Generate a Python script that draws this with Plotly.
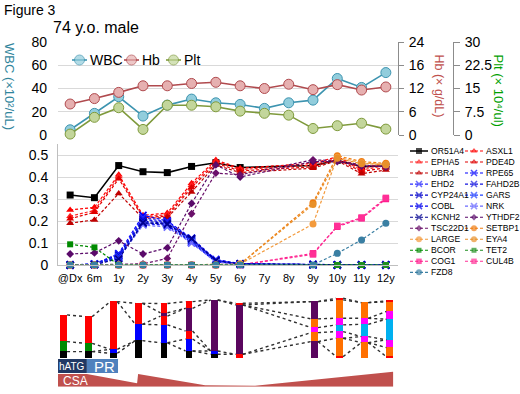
import plotly.graph_objects as go

W, H = 520, 394
FONT = "Liberation Sans, Arial, Helvetica, sans-serif"

# ---------------- data ----------------
time_labels = ['@Dx', '6m', '1y', '2y', '3y', '4y', '5y', '6y', '7y', '8y', '9y', '10y', '11y', '12y']

wbc = [4.5, 18.6, 32.9, 16.3, 25.7, 30.9, 27.7, 26.3, 22.9, 27.7, 30.0, 48.6, 40.9, 53.7]
hb = [8.0, 9.4, 11.0, 12.7, 12.7, 13.3, 13.6, 12.7, 12.0, 13.1, 11.7, 13.0, 11.6, 12.4]
plt_count = [0.3, 5.7, 8.8, 1.8, 9.6, 9.6, 9.1, 7.7, 7.0, 6.4, 2.1, 3.0, 3.8, 1.9]

wbc_ticks = [0, 20, 40, 60, 80]
hb_tickvals = [0, 6, 12, 18, 24]
hb_ticktext = ['0', '6', '12', '16', '24']
plt_tickvals = [0, 7.5, 15, 22.5, 30]
plt_ticktext = ['0', '7.5', '15', '22.5', '30']
vaf_ticks = [0, 0.1, 0.2, 0.3, 0.4, 0.5]

N = None
OR51A4 = [0.318, 0.306, 0.452, 0.424, 0.420, 0.448, 0.465, 0.443, N, N, 0.452, 0.476, 0.447, 0.450]
ASXL1 = [0.250, 0.262, 0.410, 0.226, 0.236, 0.372, 0.477, 0.440, N, N, 0.462, 0.492, 0.440, 0.462]
EPHA5 = [0.222, 0.248, 0.402, 0.220, 0.228, 0.362, 0.470, 0.434, N, N, 0.454, 0.486, 0.432, 0.452]
PDE4D = [0.210, 0.240, 0.392, 0.215, 0.222, 0.352, 0.462, 0.428, N, N, 0.446, 0.480, 0.425, 0.442]
UBR4 = [0.190, 0.205, 0.325, 0.212, 0.215, 0.332, 0.455, 0.420, N, N, 0.440, 0.474, 0.415, 0.432]
RPE65 = [0.0, 0.005, 0.052, 0.226, 0.200, 0.122, 0.025, 0.006, N, N, 0.003, 0.0, 0.0, 0.0]
EHD2 = [0.0, 0.004, 0.048, 0.215, 0.196, 0.118, 0.022, 0.005, N, N, 0.002, 0.0, 0.0, 0.0]
FAHD2B = [0.0, 0.004, 0.045, 0.208, 0.192, 0.114, 0.020, 0.004, N, N, 0.002, 0.0, 0.0, 0.0]
CYP24A1 = [0.0, 0.003, 0.042, 0.200, 0.188, 0.110, 0.018, 0.004, N, N, 0.002, 0.0, 0.0, 0.0]
GARS = [0.0, 0.003, 0.038, 0.194, 0.184, 0.106, 0.016, 0.003, N, N, 0.001, 0.0, 0.0, 0.0]
COBL = [0.0, 0.002, 0.034, 0.188, 0.180, 0.102, 0.015, 0.003, N, N, 0.001, 0.0, 0.0, 0.0]
NRK = [0.0, 0.002, 0.030, 0.182, 0.172, 0.100, 0.013, 0.002, N, N, 0.001, 0.0, 0.0, 0.0]
KCNH2 = [0.0, 0.002, 0.028, 0.192, 0.186, 0.120, 0.020, 0.005, N, N, 0.002, 0.0, 0.0, 0.0]
YTHDF2 = [0.050, 0.055, 0.110, 0.050, 0.078, 0.280, 0.455, 0.400, N, N, 0.470, 0.470, 0.450, 0.448]
TSC22D1 = [0.0, 0.0, 0.004, 0.005, 0.030, 0.233, 0.418, 0.410, N, N, 0.478, 0.474, 0.455, 0.445]
SETBP1 = [0.0, 0.0, 0.0, 0.0, 0.0, 0.0, 0.0, 0.004, N, N, 0.283, 0.497, 0.470, 0.462]
LARGE = [0.0, 0.0, 0.0, 0.0, 0.0, 0.0, 0.0, 0.004, N, N, 0.186, 0.490, 0.465, 0.455]
EYA4 = [0.0, 0.0, 0.0, 0.0, 0.0, 0.0, 0.0, 0.003, N, N, 0.275, 0.485, 0.460, 0.458]
BCOR = [0.094, 0.080, 0.0, 0.0, 0.0, 0.0, 0.0, 0.0, N, N, 0.0, 0.0, 0.0, 0.0]
TET2 = [0.0, 0.0, 0.0, 0.0, 0.0, 0.0, 0.0, 0.0, N, N, 0.0, 0.0, 0.0, 0.0]
COG1 = [0.0, 0.0, 0.0, 0.0, 0.0, 0.0, 0.0, 0.0, N, N, 0.053, 0.174, 0.212, 0.300]
CUL4B = [0.0, 0.0, 0.0, 0.0, 0.0, 0.0, 0.0, 0.0, N, N, 0.048, 0.178, 0.216, 0.305]
FZD8 = [0.0, 0.0, 0.0, 0.0, 0.0, 0.0, 0.0, 0.0, N, N, 0.0, 0.053, 0.114, 0.190]

gene_names = ['OR51A4', 'ASXL1', 'EPHA5', 'PDE4D', 'UBR4', 'RPE65', 'EHD2', 'FAHD2B', 'CYP24A1',
              'GARS', 'COBL', 'NRK', 'KCNH2', 'YTHDF2', 'TSC22D1', 'SETBP1', 'LARGE', 'EYA4',
              'BCOR', 'TET2', 'COG1', 'CUL4B', 'FZD8']
gene_values = [OR51A4, ASXL1, EPHA5, PDE4D, UBR4, RPE65, EHD2, FAHD2B, CYP24A1, GARS, COBL, NRK,
               KCNH2, YTHDF2, TSC22D1, SETBP1, LARGE, EYA4, BCOR, TET2, COG1, CUL4B, FZD8]

# clonal composition schematic (bottom -> top per time point)
bar_clones = [
    ['black', 'green', 'red'],
    ['black', 'green', 'red'],
    ['black', 'blue', 'red'],
    ['black', 'blue', 'red'],
    ['black', 'blue', 'red', 'purple', 'red'],
    ['black', 'blue', 'red', 'purple', 'red'],
    ['black', 'blue', 'purple'],
    ['red', 'purple', 'red'],
    [],
    [],
    ['purple', 'orange', 'magenta', 'orange', 'purple'],
    ['red', 'orange', 'magenta', 'cyan', 'magenta', 'orange', 'red'],
    ['orange', 'magenta', 'cyan', 'magenta', 'orange'],
    ['red', 'orange', 'magenta', 'cyan', 'magenta', 'orange', 'red'],
]
bar_sizes = [
    [6.7, 10.0, 26.7],
    [6.7, 8.3, 26.7],
    [5.0, 4.0, 47.7],
    [17.7, 16.3, 21.0],
    [15.5, 18.0, 8.7, 3.3, 9.3],
    [7.3, 12.0, 8.0, 22.7, 6.7],
    [4.0, 3.3, 51.0],
    [4.0, 49.3, 1.7],
    [],
    [],
    [16.7, 9.0, 5.0, 8.7, 17.3],
    [1.7, 18.3, 6.7, 6.7, 6.7, 18.3, 1.7],
    [15.7, 6.0, 12.3, 6.0, 15.7],
    [1.7, 9.0, 7.7, 20.7, 7.7, 9.7, 1.0],
]

# treatment lane (x in time-point units)
hatg_span = [-0.22, 0.93]
pr_span = [0.93, 2.17]
csa_x = [-0.22, 0.93, 2.93, 2.97, 5.64, 7.63, 13.13]
csa_dose = [12.7, 12.7, 3.4, 12.7, 1.5, 1.0, 15.0]

# ---------------- styles ----------------
RED = ['#ff0000', '#ff2020', '#e00000', '#c00000']
BLUE = ['#0000ff', '#2a2aff', '#1515e0', '#0000cc', '#2040ff', '#0000f0', '#6a6aff', '#000090']
gene_colors = ['#000000'] + RED + BLUE + ['#5a0a6a', '#6a106a', '#f07c10', '#f39a3c', '#e8902a',
                                          '#008a00', '#1f8f1f', '#ff1a8c', '#ff2f96', '#3a7fa3']
gene_symbols = (['square'] + ['triangle-up'] * 4 + ['x-thin'] * 8 + ['diamond'] * 2 +
                ['circle'] * 3 + ['square'] * 2 + ['square'] * 2 + ['circle'])
gene_sizes = [7] + [7] * 4 + [7] * 8 + [6] * 2 + [7] * 3 + [6] * 2 + [6.5] * 2 + [7]
# drawing order (lowest first): pink series under the rest so zero-level markers look as in the reference
draw_order = [20, 21] + list(range(0, 20)) + [22]

clone_colors = {'black': '#000000', 'green': '#008a00', 'red': '#ff0000', 'blue': '#0000ff',
                'purple': '#5a065e', 'orange': '#ff7000', 'magenta': '#ff00ff', 'cyan': '#00b0f0'}

WBC_C, WBC_F = '#3d94b0', '#92cddc'
HB_C, HB_F = '#b04a4e', '#e6b0b0'
PLT_C, PLT_F = '#7f9a3c', '#c3d69b'

fig = go.Figure()

# ---------------- top panel ----------------
def top_trace(vals, name, lc, fc, yaxis):
    return go.Scatter(x=time_labels, y=vals, name=name, mode='lines+markers', xaxis='x', yaxis=yaxis,
                      line=dict(color=lc, width=1.6),
                      marker=dict(size=10, color=fc, line=dict(color=lc, width=1)),
                      cliponaxis=False, showlegend=False)

fig.add_trace(top_trace(hb, 'Hb', HB_C, HB_F, 'y2'))
fig.add_trace(top_trace(plt_count, 'Plt', PLT_C, PLT_F, 'y3'))
fig.add_trace(top_trace(wbc, 'WBC', WBC_C, WBC_F, 'y'))

# ---------------- middle panel ----------------
for idx in draw_order:
    name, vals, c = gene_names[idx], gene_values[idx], gene_colors[idx]
    s, sz = gene_symbols[idx], gene_sizes[idx]
    solid = name == 'OR51A4'
    if s == 'x-thin':
        mk = dict(symbol=s, size=sz, color=c, line=dict(color=c, width=1.8))
    else:
        mk = dict(symbol=s, size=sz, color=c, line=dict(width=0))
    fig.add_trace(go.Scatter(
        x=time_labels, y=vals, name=name, mode='lines+markers', xaxis='x2', yaxis='y4',
        connectgaps=True, cliponaxis=False, showlegend=False,
        line=dict(color=c, width=1.6 if solid else 1.2, dash='solid' if solid else '3px,2px'),
        marker=mk))

# ---------------- bottom schematic ----------------
n_layers = max(len(s) for s in bar_sizes)
for k in range(n_layers):
    xs, ys, cs = [], [], []
    for i, (cl, sz) in enumerate(zip(bar_clones, bar_sizes)):
        if k < len(sz):
            xs.append(i)
            ys.append(sz[k])
            cs.append(clone_colors[cl[k]])
    fig.add_trace(go.Bar(x=xs, y=ys, width=0.27, xaxis='x3', yaxis='y5', showlegend=False,
                         marker=dict(color=cs, line=dict(width=0))))

def cumsum(v):
    out, t = [], 0
    for a in v:
        t += a
        out.append(t)
    return out

present = [i for i, s in enumerate(bar_sizes) if s]
lx, ly = [], []
for a, b in zip(present[:-1], present[1:]):
    Ba, Bb = cumsum(bar_sizes[a]), cumsum(bar_sizes[b])
    pairs = set()
    for v in Ba:
        pairs.add((v, min(Bb, key=lambda w: abs(w - v))))
    for w in Bb:
        pairs.add((min(Ba, key=lambda v: abs(w - v)), w))
    for v, w in sorted(pairs):
        lx += [a + 0.14, b - 0.14, None]
        ly += [v, w, None]
fig.add_trace(go.Scatter(x=lx, y=ly, mode='lines', xaxis='x3', yaxis='y5', showlegend=False,
                         line=dict(color='#303030', width=1.4, dash='dot')))

# CSA polygon
fig.add_trace(go.Scatter(x=csa_x + [csa_x[-1], csa_x[0]], y=csa_dose + [0, 0], mode='lines',
                         fill='toself', fillcolor='#c0504d', line=dict(width=0),
                         xaxis='x3', yaxis='y6', showlegend=False))

shapes = [
    dict(type='rect', xref='x3', yref='y6', x0=hatg_span[0], x1=hatg_span[1], y0=13.7, y1=27.7,
         fillcolor='#203864', line=dict(width=0)),
    dict(type='rect', xref='x3', yref='y6', x0=pr_span[0], x1=pr_span[1], y0=13.7, y1=27.7,
         fillcolor='#4f81bd', line=dict(width=0)),
]

annotations = [
    dict(text='hATG', x=sum(hatg_span) / 2, y=20.7, xref='x3', yref='y6', showarrow=False,
         font=dict(family=FONT, size=10, color='white')),
    dict(text='PR', x=sum(pr_span) / 2 + 0.1, y=20.7, xref='x3', yref='y6', showarrow=False,
         font=dict(family=FONT, size=15, color='white')),
    dict(text='CSA', x=0.46, y=6.0, xref='x3', yref='y6', showarrow=False,
         font=dict(family=FONT, size=12, color='white')),
    dict(text='Figure 3', x=2 / W, y=1 - 10 / H, xref='paper', yref='paper', xanchor='left',
         yanchor='middle', showarrow=False, font=dict(family=FONT, size=14, color='black')),
    dict(text='74 y.o. male', x=51 / W, y=1 - 27 / H, xref='paper', yref='paper', xanchor='left',
         yanchor='middle', showarrow=False, font=dict(family=FONT, size=16, color='black')),
    dict(text='WBC (×10²/uL)', x=10 / W, y=1 - 86 / H, xref='paper', yref='paper', textangle=90,
         xanchor='center', yanchor='middle',
         showarrow=False, font=dict(family=FONT, size=13, color='#31859c')),
    dict(text='Hb (× g/dL)', x=438.5 / W, y=1 - 86 / H, xref='paper', yref='paper', textangle=90,
         xanchor='center', yanchor='middle',
         showarrow=False, font=dict(family=FONT, size=12.5, color='#c0504d')),
    dict(text='Plt (× 10⁴/ul)', x=498.5 / W, y=1 - 90 / H, xref='paper', yref='paper', textangle=90,
         xanchor='center', yanchor='middle',
         showarrow=False, font=dict(family=FONT, size=13, color='#00a000')),
]

# ---------------- legends (drawn on a pixel overlay axis) ----------------
top_leg_names = ['WBC', 'Hb', 'Plt']
top_leg_x = [72, 124, 166]
top_leg_cols = [(WBC_C, WBC_F), (HB_C, HB_F), (PLT_C, PLT_F)]
for nm, x0, (lc, fc) in zip(top_leg_names, top_leg_x, top_leg_cols):
    fig.add_trace(go.Scatter(x=[x0, x0 + 7.5, x0 + 15], y=[60, 60, 60], mode='lines+markers',
                             xaxis='x4', yaxis='y7', showlegend=False, cliponaxis=False,
                             line=dict(color=lc, width=1.6),
                             marker=dict(size=[0, 10, 0], color=fc, line=dict(color=lc, width=1))))
    annotations.append(dict(text=nm, x=x0 + 16, y=60, xref='x4', yref='y7', xanchor='left',
                            yanchor='middle', showarrow=False,
                            font=dict(family=FONT, size=14, color='black')))

for i, (name, c, s, sz) in enumerate(zip(gene_names, gene_colors, gene_symbols, gene_sizes)):
    r, col = divmod(i, 2)
    x0 = 410 + col * 55
    y0 = 151 + r * 11.03
    solid = name == 'OR51A4'
    if s == 'x-thin':
        mk = dict(symbol=s, size=[0, 6, 0], color=c, line=dict(color=c, width=1.5))
    else:
        mk = dict(symbol=s, size=[0, min(sz, 7) - 1, 0], color=c, line=dict(width=0))
    fig.add_trace(go.Scatter(x=[x0, x0 + 9, x0 + 18], y=[y0, y0, y0], mode='lines+markers',
                             xaxis='x4', yaxis='y7', showlegend=False, cliponaxis=False,
                             line=dict(color=c, width=1.5 if solid else 1.1,
                                       dash='solid' if solid else '3px,2px'),
                             marker=mk))
    annotations.append(dict(text=name, x=x0 + 19, y=y0, xref='x4', yref='y7', xanchor='left',
                            yanchor='middle', showarrow=False,
                            font=dict(family=FONT, size=8.6, color='black')))

# ---------------- layout ----------------
GRID = '#d9d9d9'
tickfont = dict(family=FONT, size=14, color='black')
top_dom = [1 - 135 / H, 1 - 42 / H]
plot_xdom = [58 / W, 398 / W]

fig.update_layout(
    width=W, height=H, autosize=False,
    margin=dict(l=0, r=0, t=0, b=0, pad=0, autoexpand=False),
    paper_bgcolor='white', plot_bgcolor='rgba(0,0,0,0)',
    font=dict(family=FONT, color='black'),
    barmode='stack', bargap=0,
    showlegend=False,
    shapes=shapes, annotations=annotations,
    xaxis=dict(domain=plot_xdom, anchor='y', type='category', range=[-0.5, 13.5], automargin=False,
               showticklabels=False, showgrid=False, zeroline=False, showline=False, ticks=''),
    yaxis=dict(domain=top_dom, anchor='x', range=[0, 80], tickvals=wbc_ticks, showgrid=True,
               gridcolor=GRID, gridwidth=1, zeroline=False, showline=False, ticks='', automargin=False,
               tickfont=tickfont, ticklabelstandoff=10),
    yaxis2=dict(overlaying='y', anchor='free', position=398 / W, side='right', range=[0, 24],
                tickvals=hb_tickvals, ticktext=hb_ticktext, showgrid=False, zeroline=False,
                showline=True, linecolor='#8c8c8c', linewidth=1, ticks='outside', ticklen=5,
                tickcolor='#8c8c8c', tickfont=tickfont, ticklabelstandoff=2, automargin=False),
    yaxis3=dict(overlaying='y', anchor='free', position=453 / W, side='right', range=[0, 30],
                tickvals=plt_tickvals, ticktext=plt_ticktext, showgrid=False, zeroline=False,
                showline=True, linecolor='#8c8c8c', linewidth=1, ticks='outside', ticklen=6,
                tickcolor='#8c8c8c', tickfont=tickfont, ticklabelstandoff=2, automargin=False),
    xaxis2=dict(domain=plot_xdom, anchor='y4', type='category', range=[-0.5, 13.5],
                showgrid=False, zeroline=False, showline=True, linecolor='#bfbfbf', ticks='',
                tickangle=0, automargin=False,
                tickfont=dict(family=FONT, size=11, color='black'), ticklabelstandoff=3),
    yaxis4=dict(domain=[1 - 265 / H, 1 - 144 / H], anchor='x2', range=[0, 0.55],
                tickvals=vaf_ticks, ticktext=['0', '0.1', '0.2', '0.3', '0.4', '0.5'],
                showgrid=True, gridcolor=GRID, zeroline=False, showline=True, automargin=False,
                linecolor='#bfbfbf', ticks='', tickfont=tickfont, ticklabelstandoff=6),
    xaxis3=dict(domain=[51 / W, 402.4 / W], anchor='y5', range=[-0.5, 13.5], visible=False,
                automargin=False),
    yaxis5=dict(domain=[1 - 358.3 / H, 1 - 296.3 / H], anchor='x3', range=[0, 62], visible=False,
                automargin=False),
    yaxis6=dict(domain=[1 - 386.7 / H, 1 - 358 / H], anchor='x3', range=[0, 28.7], visible=False,
                automargin=False),
    xaxis4=dict(domain=[0, 1], anchor='y7', range=[0, W], visible=False, automargin=False),
    yaxis7=dict(domain=[0, 1], anchor='x4', range=[H, 0], visible=False, automargin=False),
)

fig.write_html("out.html", config={'displayModeBar': False},
               post_script="document.body.style.margin='0px';document.body.style.padding='0px';")
